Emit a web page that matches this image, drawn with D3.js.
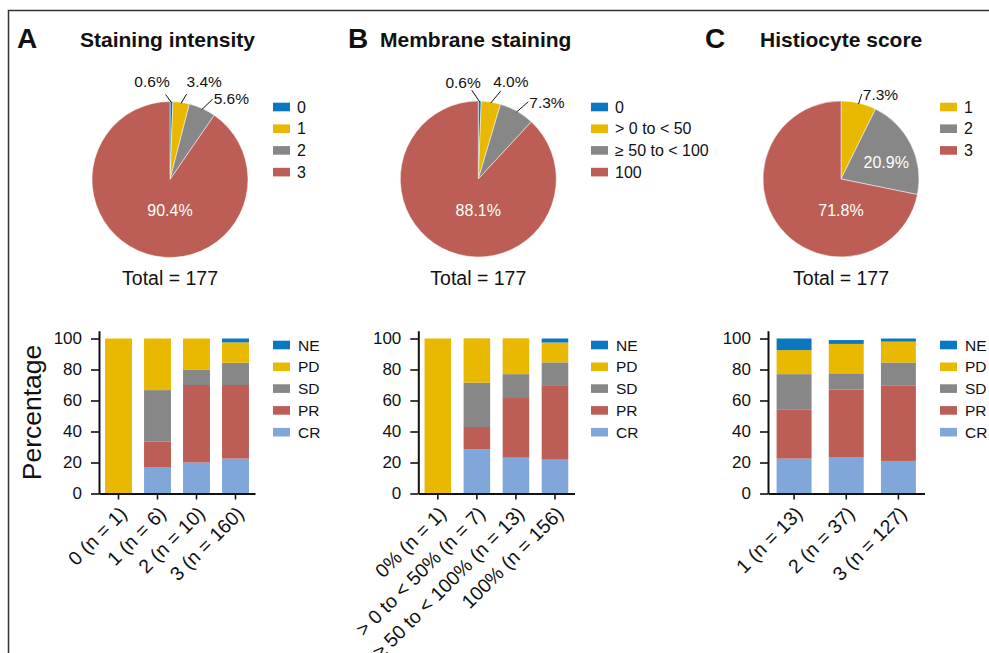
<!DOCTYPE html>
<html>
<head>
<meta charset="utf-8">
<script src="https://cdn.jsdelivr.net/npm/d3@7"></script>
<style>
  body { margin: 0; background: #fff; }
  svg text { font-family: "Liberation Sans", Arial, sans-serif; fill: #111; }
</style>
</head>
<body>
<svg id="fig" width="989" height="653"></svg>
<script>
// pie data: share of the 177 patients in each category (%)
const intensityCats = ['0', '1', '2', '3'];
const intensityPct = [0.6, 3.4, 5.6, 90.4];
const membraneCats = ['0', '> 0 to < 50', '≥ 50 to < 100', '100'];
const membranePct = [0.6, 4.0, 7.3, 88.1];
const histioCats = ['1', '2', '3'];
const histioPct = [7.3, 20.9, 71.8];
const totalN = 177;

// best response, bottom of the stack first
const responses = ['CR', 'PR', 'SD', 'PD', 'NE'];
const yTicks = [0, 20, 40, 60, 80, 100];

const intensityGroups = ['0 (n = 1)', '1 (n = 6)', '2 (n = 10)', '3 (n = 160)'];
const intensityCR = [0, 16.7, 20, 22.5];
const intensityPR = [0, 16.7, 50, 47.5];
const intensitySD = [0, 33.3, 10, 14.4];
const intensityPD = [100, 33.3, 20, 13.1];
const intensityNE = [0, 0, 0, 2.5];

const membraneGroups = ['0% (n = 1)', '> 0 to < 50% (n = 7)', '≥ 50 to < 100% (n = 13)', '100% (n = 156)'];
const membraneCR = [0, 28.6, 23.1, 21.8];
const membranePR = [0, 14.3, 38.5, 48.1];
const membraneSD = [0, 28.6, 15.4, 14.7];
const membranePD = [100, 28.6, 23.1, 12.8];
const membraneNE = [0, 0, 0, 2.6];

const histioGroups = ['1 (n = 13)', '2 (n = 37)', '3 (n = 127)'];
const histioCR = [22.5, 23.5, 21];
const histioPR = [31.5, 43.5, 48.5];
const histioSD = [23, 10.5, 15];
const histioPD = [15.5, 19, 13.5];
const histioNE = [7.5, 2.5, 2];

const BLUE = '#0b77c1', YELLOW = '#e9b901', GRAY = '#878787', RED = '#bc5e55', LIGHT = '#80a7da';
const respColors = { CR: LIGHT, PR: RED, SD: GRAY, PD: YELLOW, NE: BLUE };

const R = 78;
const svg = d3.select('#fig');

// frame
svg.append('path')
  .attr('d', 'M8.5,653V10.5H989')
  .attr('fill', 'none')
  .attr('stroke', '#333')
  .attr('stroke-width', 1.5);

// label layout for the pies: leader lines outside, or plain text inside
const panels = [
  {
    letter: 'A', title: 'Staining intensity', letterX: 17, titleX: 80,
    pie: {
      cx: 170, cy: 179.5, cats: intensityCats, pct: intensityPct, colors: [BLUE, YELLOW, GRAY, RED], legendX: 273,
      labels: [
        { mode: 'out', delta: -4, ext: 7, anchor: 'end', dx: 4, dy: -8 },
        { mode: 'out', delta: 2.7, ext: 9, anchor: 'start', dx: 0, dy: -7 },
        { mode: 'out', delta: 3.5, ext: 13, anchor: 'start', dx: 1, dy: 5 },
        { mode: 'in', ang: 180, rad: 31 }
      ]
    },
    bar: {
      x0: 99, x1: 255, pad: 0.31, legendX: 273, yLabel: true,
      groups: intensityGroups, series: [intensityCR, intensityPR, intensitySD, intensityPD, intensityNE]
    }
  },
  {
    letter: 'B', title: 'Membrane staining', letterX: 348, titleX: 380,
    pie: {
      cx: 478.3, cy: 179, cats: membraneCats, pct: membranePct, colors: [BLUE, YELLOW, GRAY, RED], legendX: 591,
      labels: [
        { mode: 'out', delta: -5.3, ext: 11, anchor: 'end', dx: 9, dy: -2.7 },
        { mode: 'out', delta: 5, ext: 13, anchor: 'start', dx: -7.7, dy: -3.4 },
        { mode: 'out', delta: 3.2, ext: 14, anchor: 'start', dx: 1, dy: 6.6 },
        { mode: 'in', ang: 180, rad: 31 }
      ]
    },
    bar: {
      x0: 418.3, x1: 574.5, pad: 0.32, legendX: 591, yLabel: false,
      groups: membraneGroups, series: [membraneCR, membranePR, membraneSD, membranePD, membraneNE]
    }
  },
  {
    letter: 'C', title: 'Histiocyte score', letterX: 705, titleX: 760,
    pie: {
      cx: 841, cy: 179, cats: histioCats, pct: histioPct, colors: [YELLOW, GRAY, RED], legendX: 940,
      labels: [
        { mode: 'out', delta: 0.6, ext: 9.5, anchor: 'start', dx: 1, dy: 6 },
        { mode: 'in', ang: 69.7, rad: 48.2 },
        { mode: 'in', ang: 180, rad: 31 }
      ]
    },
    bar: {
      x0: 768, x1: 924.5, pad: 0.33, legendX: 940, yLabel: false,
      groups: histioGroups, series: [histioCR, histioPR, histioSD, histioPD, histioNE]
    }
  }
];

const rad = deg => deg * Math.PI / 180;
const polar = (a, r) => [r * Math.sin(a), -r * Math.cos(a)];

function drawPie(p) {
  const g = svg.append('g').attr('transform', `translate(${p.cx},${p.cy})`);
  const arcs = d3.pie().sort(null).value(d => d)(p.pct);
  const arc = d3.arc().innerRadius(0).outerRadius(R);

  g.selectAll('path.slice')
    .data(arcs)
    .join('path')
    .attr('class', 'slice')
    .attr('d', arc)
    .attr('fill', (d, i) => p.colors[i])
    .attr('stroke', '#fff')
    .attr('stroke-width', 0.5);

  arcs.forEach((d, i) => {
    const lay = p.labels[i];
    const txt = d3.format('.1f')(d.data) + '%';
    if (lay.mode === 'out') {
      const mid = (d.startAngle + d.endAngle) / 2;
      const a = polar(mid, R - 1);
      const b = polar(mid + rad(lay.delta), R + lay.ext);
      g.append('line')
        .attr('x1', a[0]).attr('y1', a[1])
        .attr('x2', b[0]).attr('y2', b[1])
        .attr('stroke', '#111')
        .attr('stroke-width', 1);
      g.append('text')
        .attr('x', b[0] + lay.dx)
        .attr('y', b[1] + lay.dy)
        .attr('text-anchor', lay.anchor)
        .style('font-size', '15.5px')
        .text(txt);
    } else {
      const c = polar(rad(lay.ang), lay.rad);
      g.append('text')
        .attr('x', c[0])
        .attr('y', c[1])
        .attr('dy', '0.36em')
        .attr('text-anchor', 'middle')
        .style('font-size', '16px')
        .style('fill', '#fff')
        .text(txt);
    }
  });

  g.append('text')
    .attr('x', 0)
    .attr('y', 285 - p.cy)
    .attr('text-anchor', 'middle')
    .style('font-size', '19.5px')
    .text(`Total = ${totalN}`);

  const leg = svg.append('g').attr('transform', `translate(${p.legendX},107)`);
  p.cats.forEach((c, i) => {
    leg.append('rect')
      .attr('x', 0).attr('y', i * 21.7 - 4.3)
      .attr('width', 17).attr('height', 8.6)
      .attr('fill', p.colors[i]);
    leg.append('text')
      .attr('x', 24).attr('y', i * 21.7)
      .attr('dy', '0.36em')
      .style('font-size', '16px')
      .text(c);
  });
}

function drawBars(b) {
  const x = d3.scaleBand()
    .domain(b.groups)
    .range([b.x0, b.x1])
    .paddingInner(b.pad)
    .paddingOuter(b.pad / 2);
  const y = d3.scaleLinear().domain([0, 105]).range([493.5, 330.75]);

  const rows = b.groups.map((grp, i) => {
    const row = { group: grp };
    responses.forEach((r, k) => { row[r] = b.series[k][i]; });
    return row;
  });
  const stacked = d3.stack().keys(responses)(rows);

  const g = svg.append('g');
  g.selectAll('g.layer')
    .data(stacked)
    .join('g')
    .attr('class', 'layer')
    .attr('fill', d => respColors[d.key])
    .selectAll('rect')
    .data(d => d)
    .join('rect')
    .attr('x', d => x(d.data.group))
    .attr('y', d => y(d[1]))
    .attr('width', x.bandwidth())
    .attr('height', d => y(d[0]) - y(d[1]));

  const xAxis = g.append('g')
    .attr('transform', `translate(0,${y(0)})`)
    .call(d3.axisBottom(x).tickSize(6).tickSizeOuter(0));
  xAxis.selectAll('text')
    .attr('x', 0).attr('y', 0).attr('dy', 0)
    .attr('text-anchor', 'end')
    .attr('transform', 'translate(9.5,21.5) rotate(-45)')
    .style('font-size', '19.5px');

  const yAxis = g.append('g')
    .attr('transform', `translate(${b.x0},0)`)
    .call(d3.axisLeft(y).tickValues(yTicks).tickSize(8).tickPadding(9).tickSizeOuter(0));
  yAxis.selectAll('text').style('font-size', '17px');

  [xAxis, yAxis].forEach(ax => {
    ax.select('.domain').attr('stroke', '#111').attr('stroke-width', 2);
    ax.selectAll('.tick line').attr('stroke', '#111').attr('stroke-width', 1.6);
  });

  if (b.yLabel) {
    svg.append('text')
      .attr('transform', 'translate(41,412.5) rotate(-90)')
      .attr('text-anchor', 'middle')
      .style('font-size', '26.5px')
      .text('Percentage');
  }

  const leg = svg.append('g').attr('transform', `translate(${b.legendX},345)`);
  responses.slice().reverse().forEach((r, i) => {
    leg.append('rect')
      .attr('x', 0).attr('y', i * 21.8 - 4.3)
      .attr('width', 17).attr('height', 8.6)
      .attr('fill', respColors[r]);
    leg.append('text')
      .attr('x', 25).attr('y', i * 21.8)
      .attr('dy', '0.36em')
      .style('font-size', '15.5px')
      .text(r);
  });
}

panels.forEach(pn => {
  svg.append('text')
    .attr('x', pn.letterX).attr('y', 47.5)
    .style('font-size', '28px')
    .style('font-weight', 'bold')
    .text(pn.letter);
  svg.append('text')
    .attr('x', pn.titleX).attr('y', 46.5)
    .style('font-size', '21px')
    .style('font-weight', 'bold')
    .text(pn.title);
  drawPie(pn.pie);
  drawBars(pn.bar);
});
</script>
</body>
</html>
